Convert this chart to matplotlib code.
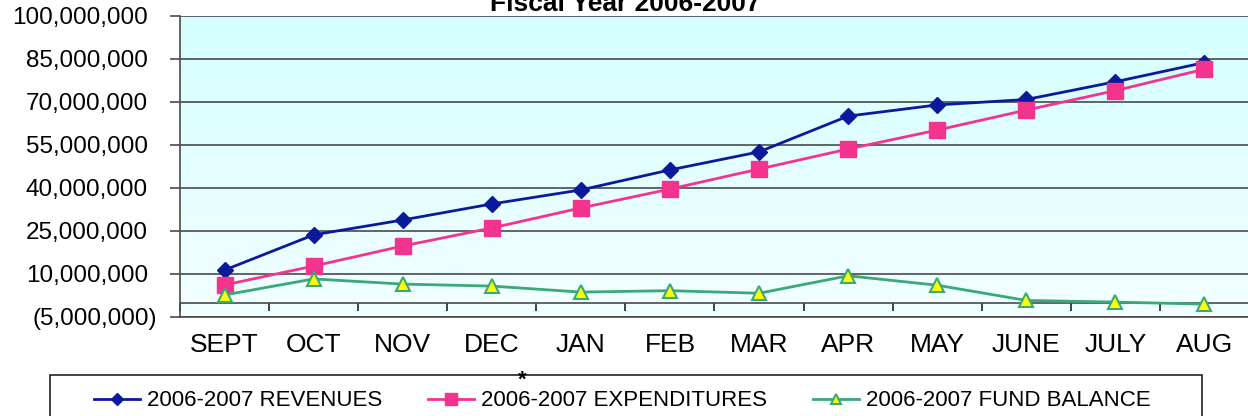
import matplotlib
matplotlib.use("Agg")
import matplotlib.pyplot as plt
import numpy as np
from matplotlib.ticker import FixedLocator, NullFormatter
from matplotlib.patches import Rectangle
from matplotlib.transforms import blended_transform_factory, ScaledTranslation

plt.rcParams['font.family'] = ['Liberation Sans', 'DejaVu Sans']

months = ["SEPT", "OCT", "NOV", "DEC", "JAN", "FEB", "MAR", "APR", "MAY", "JUNE", "JULY", "AUG"]
revenues = [11.4e6, 23.7e6, 28.9e6, 34.5e6, 39.4e6, 46.4e6, 52.7e6, 65.2e6, 69.1e6, 71.0e6, 77.2e6, 83.9e6]
expenditures = [6.2e6, 12.8e6, 19.8e6, 26.1e6, 33.1e6, 39.7e6, 46.7e6, 53.7e6, 60.3e6, 67.3e6, 74.1e6, 81.6e6]
fund_balance = [2.7e6, 8.3e6, 6.5e6, 5.8e6, 3.7e6, 4.2e6, 3.3e6, 9.4e6, 6.1e6, 0.8e6, 0.2e6, -0.5e6]
y_ticks = [-5e6, 10e6, 25e6, 40e6, 55e6, 70e6, 85e6, 100e6]
title = "Fiscal Year 2006-2007"
labels = ["2006-2007 REVENUES", "2006-2007 EXPENDITURES", "2006-2007 FUND BALANCE"]

W, H = 1248, 416
fig = plt.figure(figsize=(W / 100, H / 100), dpi=100)
ax = fig.add_axes([180 / W, 1 - 317 / H, (1249 - 180) / W, (317 - 16.5) / H])

x = np.arange(len(months))
ymin, ymax = y_ticks[0], y_ticks[-1]
ax.set_xlim(-0.5, len(months) - 0.5)
ax.set_ylim(ymin, ymax)

# gradient background
grad = np.linspace(0, 1, 256).reshape(-1, 1)
top = np.array([0.835, 0.996, 1.0])
bot = np.array([0.95, 1.0, 1.0])
img = top[None, None, :] * (1 - grad[:, :, None]) + bot[None, None, :] * grad[:, :, None]
ax.imshow(img, extent=[0, 1, 0, 1], transform=ax.transAxes, aspect='auto', zorder=0)
ax.set_facecolor('none')

gridc = '#4a4a4a'
ax.yaxis.set_major_locator(FixedLocator(y_ticks))
ax.yaxis.set_major_formatter(NullFormatter())
ax.grid(axis='y', color=gridc, linewidth=1.2, zorder=1)
ax.tick_params(axis='y', length=7, color=gridc, width=1.2)

# y tick labels (accounting style: negatives in parentheses stick out)
btr = blended_transform_factory(ax.transAxes, ax.transData)
for v in y_ticks:
    if v < 0:
        s = "({:,.0f})".format(-v)
        off = -23
    else:
        s = "{:,.0f}".format(v)
        off = -32
    ax.text(0, v, s, transform=btr + ScaledTranslation(off / 100, -2 / 100, fig.dpi_scale_trans),
            ha='right', va='center', fontsize=17.5, clip_on=False)

ax.set_xticks(x)
ax.set_xticklabels(months)
ax.tick_params(axis='x', length=0, labelsize=19, pad=11.5)

for s in ['top', 'right']:
    ax.spines[s].set_visible(False)
ax.spines['left'].set_color(gridc)
ax.spines['left'].set_linewidth(1.2)
ax.spines['bottom'].set_color(gridc)
ax.spines['bottom'].set_linewidth(1.2)

# zero axis with boundary ticks
ax.axhline(0, color=gridc, linewidth=1.2, zorder=1)
sec = ax.secondary_xaxis((0 - ymin) / (ymax - ymin))
sec.set_xticks(np.arange(len(months) + 1) - 0.5)
sec.set_xticklabels([])
sec.tick_params(direction='out', length=6, width=1.2, color='#222222')
sec.spines['bottom'].set_visible(False)

ax.plot(x, revenues, color='#0a1a9a', linewidth=2.0, marker='D', markersize=8,
        markerfacecolor='#0a1a9a', markeredgecolor='#0a1a9a', label=labels[0], zorder=4)
ax.plot(x, expenditures, color='#f4338f', linewidth=2.0, marker='s', markersize=11,
        markerfacecolor='#f4338f', markeredgecolor='#f4338f', label=labels[1], zorder=4)
ax.plot(x, fund_balance, color='#3aa878', linewidth=2.0, marker='^', markersize=10,
        markerfacecolor='#ffff00', markeredgecolor='#3aa878', markeredgewidth=1.5,
        label=labels[2], zorder=4)

fig.text(625 / W, 1 - 11 / H, title, ha='center', va='baseline', fontsize=19, fontweight='bold')

handles, labs = ax.get_legend_handles_labels()
leg = fig.legend(handles, labs, loc='center', bbox_to_anchor=(622 / W, 1 - 401 / H), ncol=3,
                 frameon=False, fontsize=16, handlelength=2.1, handletextpad=0.3,
                 columnspacing=2.05, borderpad=0, markerscale=0.75)
fig.patches.append(Rectangle((50 / W, -0.05), (1202 - 50) / W, 0.05 + 1 - 375 / H,
                             transform=fig.transFigure, fill=False, edgecolor='#222222',
                             linewidth=1.2))
fig.text(522 / W, 1 - 380 / H, '*', ha='center', va='center', fontsize=16, fontweight='bold')

fig.savefig('out.png', dpi=100)
